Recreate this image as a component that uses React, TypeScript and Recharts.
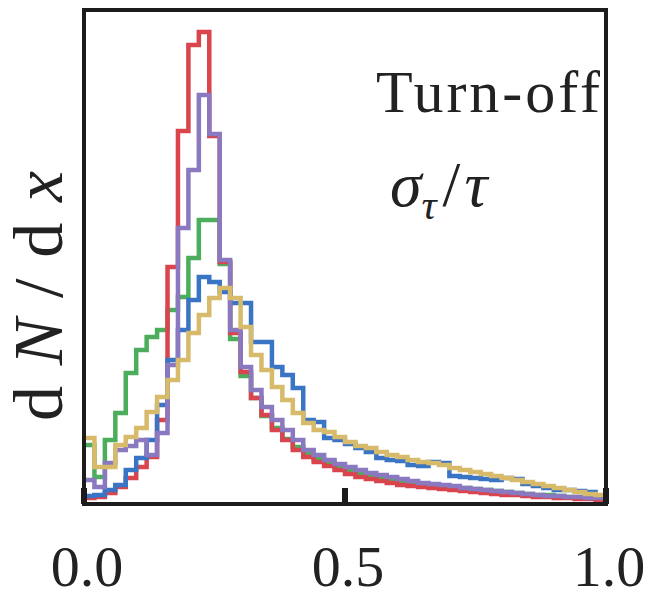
import { LineChart, Line, XAxis, YAxis } from 'recharts';

// left edges of the 50 histogram bins, plus the closing edge at 1.0
const binEdges = [
  0, 0.02, 0.04, 0.06, 0.08, 0.1, 0.12, 0.14, 0.16, 0.18,
  0.2, 0.22, 0.24, 0.26, 0.28, 0.3, 0.32, 0.34, 0.36, 0.38,
  0.4, 0.42, 0.44, 0.46, 0.48, 0.5, 0.52, 0.54, 0.56, 0.58,
  0.6, 0.62, 0.64, 0.66, 0.68, 0.7, 0.72, 0.74, 0.76, 0.78,
  0.8, 0.82, 0.84, 0.86, 0.88, 0.9, 0.92, 0.94, 0.96, 0.98, 1.0,
];

const xTicks = [0, 0.5, 1];

// dN/dx per bin (arbitrary units)
const redCounts = [
  6, 7, 11, 17, 26, 37, 47, 84, 237, 373,
  459, 472, 368, 242, 171, 132, 106, 89, 74, 64,
  54, 47, 42, 38, 34, 30, 27, 25, 23, 21,
  19, 18, 17, 16, 15, 14, 13, 12, 11, 10,
  9, 9, 8, 7, 7, 6, 6, 5, 5, 4,
];
const greenCounts = [
  59, 27, 64, 91, 131, 154, 167, 174, 194, 207,
  246, 284, 284, 240, 165, 128, 106, 88, 76, 65,
  57, 50, 45, 41, 37, 33, 30, 28, 26, 24,
  22, 21, 20, 19, 18, 17, 16, 15, 14, 13,
  12, 11, 10, 9, 9, 8, 7, 7, 6, 5,
];
const blueCounts = [
  8, 9, 14, 19, 34, 46, 64, 99, 144, 174,
  204, 227, 222, 212, 201, 201, 162, 162, 137, 129,
  116, 84, 82, 66, 64, 60, 56, 52, 46, 44,
  43, 39, 38, 42, 41, 28, 27, 26, 25, 24,
  26, 25, 20, 18, 16, 14, 14, 13, 12, 8,
];
const purpleCounts = [
  24, 17, 41, 54, 58, 64, 49, 71, 139, 276,
  334, 409, 370, 244, 174, 137, 114, 97, 84, 74,
  64, 54, 49, 44, 40, 37, 34, 31, 29, 27,
  25, 23, 21, 20, 19, 18, 16, 15, 14, 13,
  12, 11, 10, 9, 8, 8, 7, 7, 6, 6,
];
const yellowCounts = [
  66, 37, 37, 59, 67, 76, 92, 107, 124, 144,
  171, 189, 206, 216, 206, 177, 149, 134, 117, 104,
  91, 81, 74, 72, 67, 62, 58, 56, 52, 49,
  47, 44, 42, 41, 39, 36, 34, 32, 30, 28,
  26, 24, 22, 20, 18, 16, 14, 12, 10, 9,
];

const seriesList = [
  { key: 'green', color: '#4cae5c', values: greenCounts },
  { key: 'red', color: '#d9444d', values: redCounts },
  { key: 'blue', color: '#3a74c4', values: blueCounts },
  { key: 'purple', color: '#8a78c0', values: purpleCounts },
  { key: 'yellow', color: '#d7bb6b', values: yellowCounts },
];

const nBins = redCounts.length;
const rows = binEdges.map((x, i) => {
  const row: Record<string, number> = { x };
  seriesList.forEach((s) => {
    row[s.key] = s.values[Math.min(i, nBins - 1)];
  });
  return row;
});

const ink = '#1c1c1c';
const serif = 'Liberation Serif';
const frame = { stroke: ink, strokeWidth: 4, strokeLinecap: 'square' as const };

function BottomTick(props: any) {
  const { x, payload } = props;
  const base = 504;
  return (
    <g>
      <line x1={x} y1={base} x2={x} y2={base - 16} stroke={ink} strokeWidth={6} />
      <text x={x + 3} y={base + 82} textAnchor="middle" fontFamily={serif} fontSize={58} fill="#222">
        {Number(payload.value).toFixed(1)}
      </text>
    </g>
  );
}

export default function App() {
  return (
    <div style={{ position: 'relative', width: 646, height: 598, background: '#fff' }}>
      <style>{'body{margin:0}'}</style>
      <LineChart
        width={646}
        height={598}
        data={rows}
        margin={{ top: 9, right: 39, bottom: 4, left: 83 }}
      >
        <XAxis
          xAxisId="b"
          dataKey="x"
          type="number"
          domain={[0, 1]}
          ticks={xTicks}
          height={90}
          tickSize={0}
          tickMargin={0}
          tickLine={false}
          axisLine={frame}
          tick={<BottomTick />}
          interval={0}
        />
        <XAxis
          xAxisId="t"
          orientation="top"
          type="number"
          domain={[0, 1]}
          height={1}
          tick={false}
          tickLine={false}
          axisLine={frame}
        />
        <YAxis
          yAxisId="l"
          type="number"
          domain={[0, 494]}
          width={1}
          tick={false}
          tickLine={false}
          axisLine={frame}
        />
        <YAxis
          yAxisId="r"
          orientation="right"
          type="number"
          domain={[0, 494]}
          width={1}
          tick={false}
          tickLine={false}
          axisLine={frame}
        />
        {seriesList.map((s) => (
          <Line
            key={s.key}
            xAxisId="b"
            yAxisId="l"
            dataKey={s.key}
            type="stepAfter"
            stroke={s.color}
            strokeWidth={4.5}
            strokeLinejoin="miter"
            dot={false}
            activeDot={false}
            isAnimationActive={false}
          />
        ))}
      </LineChart>
      <svg
        width={646}
        height={598}
        style={{ position: 'absolute', left: 0, top: 0, pointerEvents: 'none' }}
      >
        <text
          transform="translate(62,296) rotate(-90)"
          textAnchor="middle"
          fontFamily={serif}
          fontSize={70}
          fill="#222"
          textLength={250}
          lengthAdjust="spacing"
        >
          d<tspan fontStyle="italic">N</tspan>/d<tspan fontStyle="italic">x</tspan>
        </text>
        <text x={376} y={112} fontFamily={serif} fontSize={60} fill="#222" textLength={224} lengthAdjust="spacing">
          Turn-off
        </text>
        <text x={390} y={206} fontFamily={serif} fontSize={64} fill="#222">
          <tspan fontStyle="italic">σ</tspan>
          <tspan fontStyle="italic" fontSize={42} dy={13}>τ</tspan>
          <tspan dx={6} dy={-13}>/</tspan>
          <tspan fontStyle="italic" dx={4}>τ</tspan>
        </text>
      </svg>
    </div>
  );
}
